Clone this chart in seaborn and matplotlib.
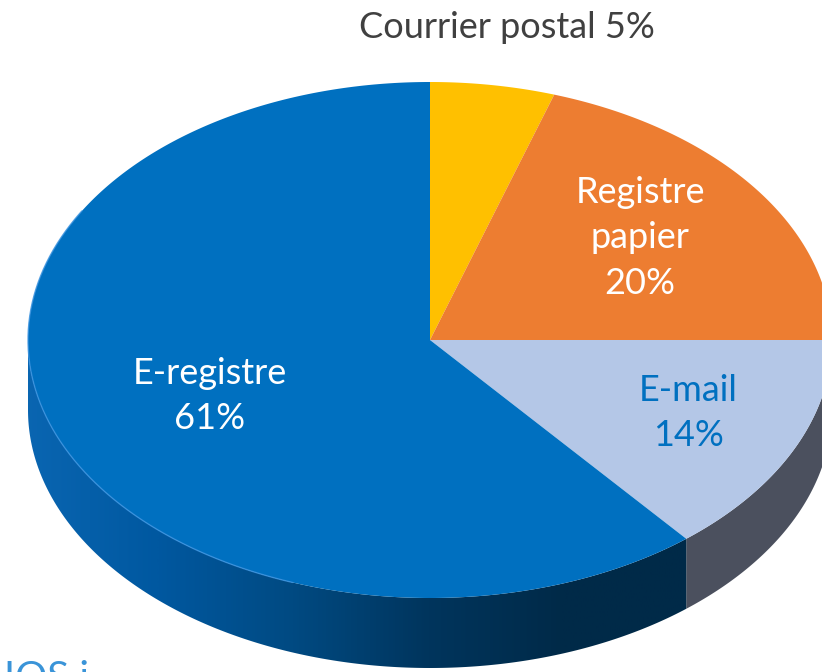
import numpy as np
import matplotlib
matplotlib.use("Agg")
import matplotlib.pyplot as plt
import seaborn as sns
from matplotlib.patches import Polygon

# ---- data ----
categories = ["Courrier postal", "Registre papier", "E-mail", "E-registre"]
shares = [5, 20, 14, 61]
labels = ["Courrier postal 5%", "Registre\npapier\n20%", "E-mail\n14%", "E-registre\n61%"]
top_colors = ["#ffc000", "#ed7d31", "#b4c7e7", "#0070c0"]
side_colors = ["#b38600", "#a5561f", "#4b505e", "#0a5fa6"]
label_colors = ["#404040", "white", "#0070c0", "white"]

sns.set_theme(style="white")
plt.rcParams['font.family'] = ['Lato', 'DejaVu Sans']

W, H = 822, 672
fig = plt.figure(figsize=(W / 100, H / 100), dpi=100)
ax = fig.add_axes([0, 0, 1, 1])
ax.set_xlim(0, W)
ax.set_ylim(H, 0)
ax.axis("off")

cx, cy, a, b, depth = 430, 340, 402, 258, 70


def pt(theta_deg, dy=0.0):
    t = np.radians(theta_deg)
    return cx + a * np.sin(t), cy - b * np.cos(t) + dy


fr = np.array(shares, dtype=float) / sum(shares)
starts = np.concatenate([[0], np.cumsum(fr)[:-1]]) * 360
ends = np.cumsum(fr) * 360

# ---- sides (front half: 90..270 deg) ----
for i, (s, e) in enumerate(zip(starts, ends)):
    lo, hi = max(s, 90), min(e, 270)
    if hi <= lo:
        continue
    th = np.linspace(lo, hi, 200)
    xs, ys = pt(th)
    top = np.column_stack([xs, ys])
    bot = np.column_stack([xs, ys + depth])[::-1]
    poly = np.vstack([top, bot])
    if categories[i] == "E-registre":
        patch = Polygon(poly, closed=True, facecolor="none", edgecolor="none")
        ax.add_patch(patch)
        grad = np.linspace(0, 1, 400)
        cmap = matplotlib.colors.LinearSegmentedColormap.from_list(
            "side", ["#0a66b2", "#0058a0", "#004a82", "#00355d", "#002a48", "#002a48"])
        im = ax.imshow(grad[None, :], extent=(20, 700, H + 10, 300), aspect="auto",
                       cmap=cmap, zorder=1)
        im.set_clip_path(patch)
        ax.set_xlim(0, W)
        ax.set_ylim(H, 0)
    else:
        ax.add_patch(Polygon(poly, closed=True, facecolor=side_colors[i],
                             edgecolor="none", zorder=1))

# ---- top faces ----
for i, (s, e) in enumerate(zip(starts, ends)):
    th = np.linspace(s, e, 300)
    xs, ys = pt(th)
    poly = np.vstack([[cx, cy], np.column_stack([xs, ys])])
    ax.add_patch(Polygon(poly, closed=True, facecolor=top_colors[i],
                         edgecolor="none", zorder=2))

# subtle highlight on left rim
th = np.linspace(200, 300, 200)
xs, ys = pt(th)
ax.plot(xs, ys, color="#3b93e0", lw=1.0, zorder=3, alpha=0.8)

# ---- labels ----
ax.text(507, 28, labels[0], ha="center", va="center", fontsize=26,
        color=label_colors[0], zorder=5)
ax.text(640, 238, labels[1], ha="center", va="center", fontsize=26,
        color=label_colors[1], linespacing=1.47, zorder=5)
ax.text(688, 413, labels[2], ha="center", va="center", fontsize=26,
        color=label_colors[2], linespacing=1.47, zorder=5)
ax.text(210, 396, labels[3], ha="center", va="center", fontsize=26,
        color=label_colors[3], linespacing=1.47, zorder=5)

ax.text(4, 690, "IOS i", ha="left", va="baseline", fontsize=29,
        color="#3a94d8", zorder=5)

fig.savefig("out.png", dpi=100)
